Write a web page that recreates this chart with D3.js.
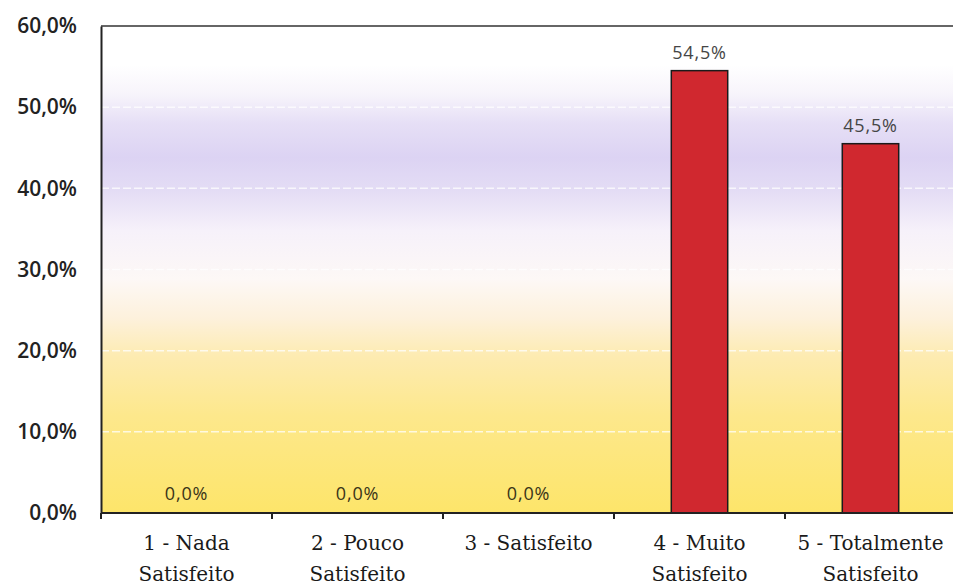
<!DOCTYPE html>
<html><head><meta charset="utf-8">
<script src="https://cdn.jsdelivr.net/npm/d3@7/dist/d3.min.js"></script>
<style>body{margin:0;background:#fff}svg{display:block}</style>
</head><body>
<svg id="c" width="953" height="585"></svg>
<script>
const categories = [["1 - Nada","Satisfeito"],["2 - Pouco","Satisfeito"],["3 - Satisfeito"],["4 - Muito","Satisfeito"],["5 - Totalmente","Satisfeito"]];
const values = [0.0, 0.0, 0.0, 54.5, 45.5];
const yTicks = [0, 10, 20, 30, 40, 50, 60];

const svg = d3.select("#c");
const L = 101, R = 956, T = 26, B = 513;
const keys = categories.map((c,i)=>String(i));
const x = d3.scaleBand().domain(keys).range([L, R]).paddingInner(0).paddingOuter(0);
const y = d3.scaleLinear().domain([0, 60]).range([B, T]);
const fmt = v => v.toFixed(1).replace(".", ",") + "%";

// background gradient
const defs = svg.append("defs");
const g = defs.append("linearGradient").attr("id","bg").attr("x1",0).attr("y1",0).attr("x2",0).attr("y2",1);
[[0,"#ffffff"],[0.08,"#ffffff"],[0.14,"#f7f4fb"],[0.2,"#e6dff6"],[0.27,"#dcd3f3"],[0.34,"#e4ddf5"],[0.42,"#f6f1fa"],[0.52,"#fdf8f6"],[0.6,"#fdf1dc"],[0.68,"#fdebb0"],[0.8,"#fde88c"],[1,"#fde56a"]]
  .forEach(([o,c]) => g.append("stop").attr("offset",o).attr("stop-color",c));
svg.append("rect").attr("x",L).attr("y",T).attr("width",R-L).attr("height",B-T).attr("fill","url(#bg)");

// gridlines
svg.append("g").selectAll("line").data(yTicks.filter(t=>t>0&&t<60)).join("line")
  .attr("x1",L).attr("x2",R).attr("y1",d=>y(d)).attr("y2",d=>y(d))
  .attr("stroke","#ffffff").attr("stroke-width",1.5).attr("stroke-dasharray","8,3").attr("opacity",0.75);

// top border
svg.append("line").attr("x1",L).attr("x2",R).attr("y1",T).attr("y2",T).attr("stroke","#333").attr("stroke-width",1.5);

// bars
const bw = x.bandwidth()*0.33;
svg.append("g").selectAll("rect").data(values).join("rect")
  .attr("x",(d,i)=>x(keys[i])+x.bandwidth()/2-bw/2)
  .attr("y",d=>y(d)).attr("width",bw).attr("height",d=>B-y(d))
  .attr("fill","#d0282f").attr("stroke","#1a1a1a").attr("stroke-width",1.5)
  .attr("display",d=>d>0?null:"none");

// value labels
svg.append("g").selectAll("text").data(values).join("text")
  .attr("x",(d,i)=>x(keys[i])+x.bandwidth()/2)
  .attr("y",d=>d>0?y(d)-12:B-13)
  .attr("text-anchor","middle")
  .attr("font-family","Open Sans, sans-serif").attr("font-size",18).attr("letter-spacing",0.8)
  .attr("fill",d=>d>0?"#454545":"#3a3418")
  .text(d=>fmt(d));

// y axis
const ya = svg.append("g").attr("transform",`translate(${L},0)`)
  .call(d3.axisLeft(y).tickValues(yTicks).tickSize(0).tickPadding(24).tickFormat(fmt));
ya.select(".domain").attr("stroke","#222").attr("stroke-width",2);
ya.selectAll("text").attr("font-family","Open Sans, sans-serif").attr("font-size",21).attr("font-weight",600).attr("fill","#222");

// x axis
const xa = svg.append("g").attr("transform",`translate(0,${B})`);
xa.append("line").attr("x1",L).attr("x2",R).attr("stroke","#222").attr("stroke-width",2);
xa.selectAll("line.t").data(keys).join("line").attr("class","t")
  .attr("x1",d=>x(d)).attr("x2",d=>x(d)).attr("y1",0).attr("y2",6).attr("stroke","#222").attr("stroke-width",2);
const xl = xa.selectAll("text").data(categories).join("text")
  .attr("text-anchor","middle")
  .attr("font-family","DejaVu Serif, serif").attr("font-size",20).attr("fill","#1a1a1a")
  .attr("transform",(d,i)=>`translate(${x(keys[i])+x.bandwidth()/2},0)`);
xl.selectAll("tspan").data(d=>d).join("tspan").attr("x",0).attr("y",(d,j)=>37+j*31).text(d=>d);
</script>
</body></html>
